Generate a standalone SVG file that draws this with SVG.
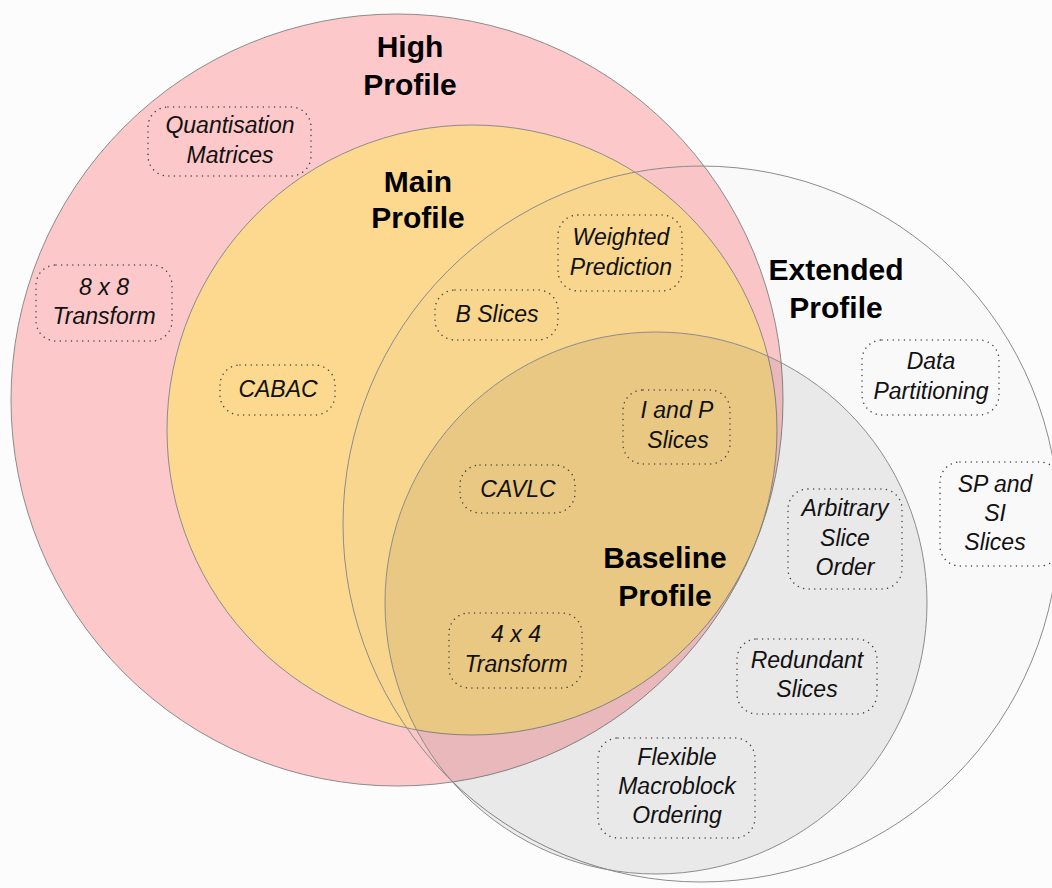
<svg xmlns="http://www.w3.org/2000/svg" width="1052" height="888" viewBox="0 0 1052 888">
<style>
.ring{stroke:#8c8c8c;stroke-width:1}
.title{font-family:"Liberation Sans",Arial,sans-serif;font-weight:bold;font-size:30px;fill:#000;text-anchor:middle}
.lbl{font-family:"Liberation Sans",Arial,sans-serif;font-style:italic;font-size:23px;fill:#111;text-anchor:middle}
.box{fill:none;stroke:#444;stroke-width:1.5;stroke-dasharray:0.01 5.6;stroke-linecap:round}
</style>
<rect x="0" y="0" width="1052" height="888" fill="#fcfcfc"/>
<g id="high-profile">
<circle class="ring" cx="397" cy="400" r="386" fill="#fcc8ca"/>
</g>
<g id="main-profile">
<circle class="ring" cx="472" cy="430" r="305" fill="#fcd98f"/>
</g>
<g id="extended-profile">
<circle class="ring" cx="701" cy="524" r="358" fill="#000" fill-opacity="0.011"/>
</g>
<g id="baseline-profile">
<circle class="ring" cx="656" cy="603" r="271" fill="#000" fill-opacity="0.062"/>
</g>
<g id="titles">
<text class="title" x="410" y="57">High</text>
<text class="title" x="410" y="95">Profile</text>
<text class="title" x="418" y="192">Main</text>
<text class="title" x="418" y="228">Profile</text>
<text class="title" x="836" y="280">Extended</text>
<text class="title" x="836" y="318">Profile</text>
<text class="title" x="665" y="568">Baseline</text>
<text class="title" x="665" y="606">Profile</text>
</g>
<g id="quantisation-matrices">
<rect class="box" x="148" y="107" width="163" height="69" rx="20"/>
<text class="lbl" x="230" y="133">Quantisation</text>
<text class="lbl" x="230" y="163">Matrices</text>
</g>
<g id="transform-8x8">
<rect class="box" x="36" y="265" width="136" height="76" rx="20"/>
<text class="lbl" x="104" y="295">8 x 8</text>
<text class="lbl" x="104" y="324">Transform</text>
</g>
<g id="cabac">
<rect class="box" x="220" y="365" width="115" height="50" rx="20"/>
<text class="lbl" x="278" y="397">CABAC</text>
</g>
<g id="b-slices">
<rect class="box" x="435" y="290" width="123" height="50" rx="20"/>
<text class="lbl" x="497" y="322">B Slices</text>
</g>
<g id="weighted-prediction">
<rect class="box" x="558" y="215" width="124" height="76" rx="20"/>
<text class="lbl" x="621" y="245">Weighted</text>
<text class="lbl" x="621" y="275">Prediction</text>
</g>
<g id="data-partitioning">
<rect class="box" x="862" y="340" width="137" height="75" rx="20"/>
<text class="lbl" x="931" y="369">Data</text>
<text class="lbl" x="931" y="399">Partitioning</text>
</g>
<g id="i-and-p-slices">
<rect class="box" x="623" y="390" width="107" height="74" rx="20"/>
<text class="lbl" x="677" y="418">I and P</text>
<text class="lbl" x="678" y="448">Slices</text>
</g>
<g id="cavlc">
<rect class="box" x="460" y="465" width="115" height="48" rx="20"/>
<text class="lbl" x="518" y="497">CAVLC</text>
</g>
<g id="transform-4x4">
<rect class="box" x="449" y="613" width="133" height="75" rx="20"/>
<text class="lbl" x="516" y="642">4 x 4</text>
<text class="lbl" x="516" y="672">Transform</text>
</g>
<g id="arbitrary-slice-order">
<rect class="box" x="788" y="489" width="114" height="100" rx="20"/>
<text class="lbl" x="845" y="516">Arbitrary</text>
<text class="lbl" x="845" y="546">Slice</text>
<text class="lbl" x="845" y="575">Order</text>
</g>
<g id="sp-and-si-slices">
<rect class="box" x="940" y="462" width="120" height="104" rx="20"/>
<text class="lbl" x="995" y="492">SP and</text>
<text class="lbl" x="995" y="521">SI</text>
<text class="lbl" x="995" y="550">Slices</text>
</g>
<g id="redundant-slices">
<rect class="box" x="737" y="639" width="140" height="75" rx="20"/>
<text class="lbl" x="807" y="668">Redundant</text>
<text class="lbl" x="807" y="697">Slices</text>
</g>
<g id="flexible-macroblock-ordering">
<rect class="box" x="598" y="738" width="157" height="100" rx="20"/>
<text class="lbl" x="677" y="765">Flexible</text>
<text class="lbl" x="677" y="794">Macroblock</text>
<text class="lbl" x="677" y="823">Ordering</text>
</g>
<g id="connectors"></g>
</svg>
